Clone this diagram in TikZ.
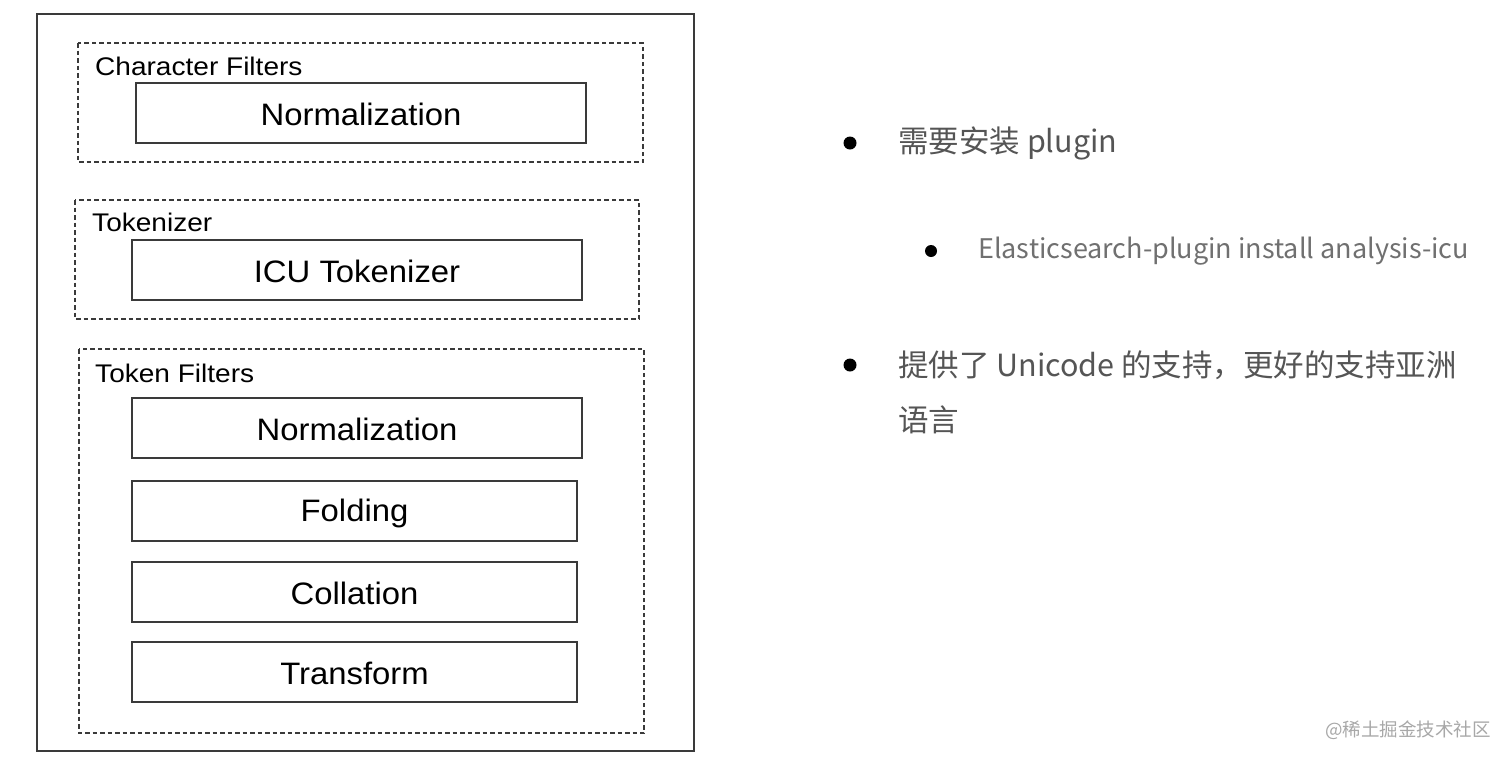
\documentclass[tikz,border=0pt]{standalone}
\usepackage{fontspec}
\setmainfont{Liberation Sans}
\newfontfamily\stagefont[FakeStretch=1.06]{Liberation Sans}
\newfontfamily\lblfont[FakeStretch=1.1]{Liberation Sans}
\newfontfamily\cjk{Noto Sans CJK SC}
\definecolor{linec}{HTML}{3A3A3A}
\definecolor{txtgray}{HTML}{555555}
\definecolor{txtlight}{HTML}{707070}
\definecolor{wm}{HTML}{A8A8A8}
\tikzset{
  outerbox/.style={draw=linec, line width=2pt},
  groupbox/.style={draw=linec, line width=1.4pt, dash pattern=on 4.5pt off 3pt},
  stagebox/.style={draw=linec, line width=2pt, fill=white},
  stagetxt/.style={font=\stagefont\fontsize{31}{34}\selectfont, text=black},
  grouplbl/.style={font=\lblfont\fontsize{25.5}{28}\selectfont, text=black, anchor=west, inner sep=0pt},
  bulletdot/.style={circle, fill=black, inner sep=0pt, minimum size=13pt},
  smalldot/.style={circle, fill=black, inner sep=0pt, minimum size=12pt},
  bigtxt/.style={font=\cjk\fontsize{30.5}{34}\selectfont, text=txtgray, anchor=west, inner sep=0pt},
  smalltxt/.style={font=\cjk\fontsize{27}{30}\selectfont, text=txtlight, anchor=west, inner sep=0pt},
}
\begin{document}
\begin{tikzpicture}[x=1pt,y=-1pt]
\useasboundingbox[fill=white] (0,0) rectangle (1512,761);
% outer frame
\draw[outerbox] (37,14) rectangle (694,751);
% group boxes
\draw[groupbox] (78,43) rectangle (643,162);
\node[grouplbl] (lcf) at (95,66) {Character Filters};
\draw[groupbox] (75,200) rectangle (639,319);
\node[grouplbl] (ltk) at (92,222) {Tokenizer};
\draw[groupbox] (79,349) rectangle (644,733);
\node[grouplbl] (ltf) at (95,373) {Token Filters};
% stages
\draw[stagebox] (136,83) rectangle (586,143);
\node[stagetxt] (n1) at (361,114) {Normalization};
\draw[stagebox] (132,240) rectangle (582,300);
\node[stagetxt] (icu) at (357,271) {ICU Tokenizer};
\draw[stagebox] (132,398) rectangle (582,458);
\node[stagetxt] (n2) at (357,429) {Normalization};
\draw[stagebox] (132,481) rectangle (577,541);
\node[stagetxt] (fold) at (354.5,513) {Folding};
\draw[stagebox] (132,562) rectangle (577,622);
\node[stagetxt] (coll) at (354.5,593) {Collation};
\draw[stagebox] (132,642) rectangle (577,702);
\node[stagetxt] (trans) at (354.5,673) {Transform};
% right bullets
\node[bulletdot] (b1) at (850,143) {};
\node[bigtxt] (t1) at (898,143) {需要安装 plugin};
\node[smalldot] (b2) at (931,251) {};
\node[smalltxt] (t2) at (978,251) {Elasticsearch-plugin install analysis-icu};
\node[bulletdot] (b3) at (850,365) {};
\node[bigtxt] (t3) at (898,365) {提供了 Unicode 的支持，更好的支持亚洲};
\node[bigtxt] (t4) at (898,420) {语言};
% watermark
\node[font=\cjk\fontsize{18.5}{20}\selectfont, text=wm, anchor=east, inner sep=0pt] (wmk) at (1491,730) {@稀土掘金技术社区};
\end{tikzpicture}
\end{document}
